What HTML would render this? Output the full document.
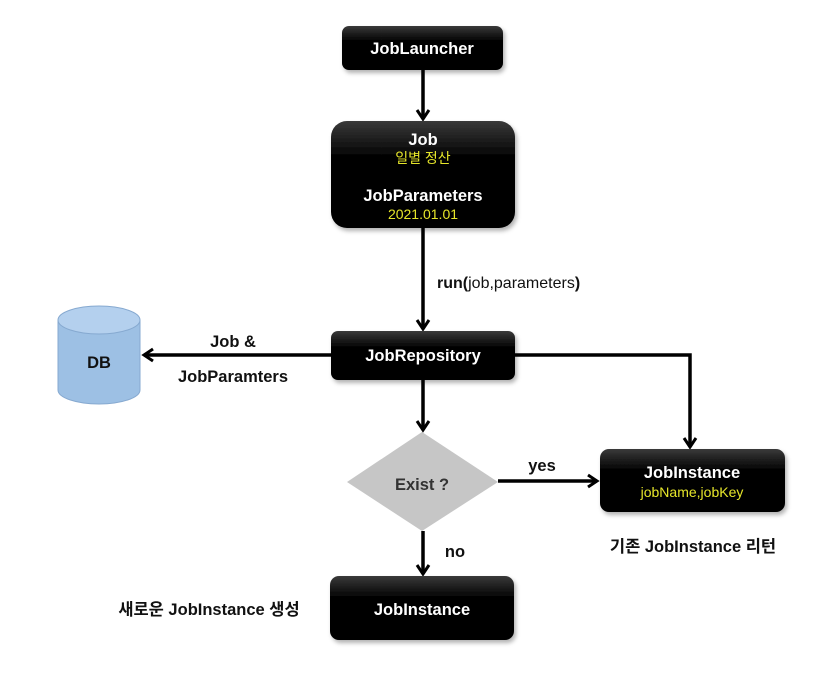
<!DOCTYPE html>
<html><head><meta charset="utf-8"><style>
html,body{margin:0;padding:0;background:#fff;}
svg{display:block;font-family:"Liberation Sans","Noto Sans CJK KR",sans-serif;}
.w{fill:#fff;font-weight:bold;font-size:16.5px;}
.y{fill:#e6e62a;font-size:14px;}
.k{fill:#111;font-weight:bold;font-size:16.5px;}
</style></head><body>
<svg width="820" height="681" viewBox="0 0 820 681">
<defs>
<linearGradient id="bg" x1="0" y1="0" x2="0" y2="1">
<stop offset="0" stop-color="#3a3a3a"/><stop offset="0.35" stop-color="#000"/><stop offset="1" stop-color="#000"/>
</linearGradient>
<marker id="a" markerWidth="16" markerHeight="16" refX="11" refY="8" orient="auto" markerUnits="userSpaceOnUse">
<path d="M2,2 L11,8 L2,14" fill="none" stroke="#000" stroke-width="3"/>
</marker>
<filter id="s" x="-10%" y="-10%" width="130%" height="140%"><feDropShadow dx="2" dy="3" stdDeviation="2" flood-color="#000" flood-opacity="0.3"/></filter>
</defs>
<g stroke="#000" stroke-width="3.5" fill="none">
<line x1="423" y1="70" x2="423" y2="119" marker-end="url(#a)"/>
<line x1="423" y1="228" x2="423" y2="329" marker-end="url(#a)"/>
<line x1="331" y1="355" x2="144" y2="355" marker-end="url(#a)"/>
<polyline points="515,355 690,355 690,447" marker-end="url(#a)"/>
<line x1="423" y1="380" x2="423" y2="430" marker-end="url(#a)"/>
<line x1="498" y1="481" x2="597" y2="481" marker-end="url(#a)"/>
<line x1="423" y1="531" x2="423" y2="574" marker-end="url(#a)"/>
</g>
<g filter="url(#s)">
<rect x="342" y="26" width="161" height="44" rx="7" fill="url(#bg)"/>
<rect x="331" y="121" width="184" height="107" rx="16" fill="url(#bg)"/>
<rect x="331" y="331" width="184" height="49" rx="7" fill="url(#bg)"/>
<rect x="600" y="449" width="185" height="63" rx="9" fill="url(#bg)"/>
<rect x="330" y="576" width="184" height="64" rx="9" fill="url(#bg)"/>
</g>
<text class="w" x="422" y="54" text-anchor="middle">JobLauncher</text>
<text class="w" x="423" y="145" text-anchor="middle">Job</text>
<text class="y" x="423" y="163" text-anchor="middle">일별 정산</text>
<text class="w" x="423" y="201" text-anchor="middle">JobParameters</text>
<text class="y" x="423" y="219" text-anchor="middle">2021.01.01</text>
<text x="437" y="288" font-size="16" fill="#111"><tspan font-weight="bold">run(</tspan>job,parameters<tspan font-weight="bold">)</tspan></text>
<text class="w" x="423" y="361" text-anchor="middle">JobRepository</text>
<path d="M58,320 L58,390 A41,14 0 0 0 140,390 L140,320" fill="#9dc0e4" stroke="#86a9d0"/>
<ellipse cx="99" cy="320" rx="41" ry="14" fill="#b4d0ee" stroke="#86a9d0"/>
<text class="k" x="99" y="368" text-anchor="middle">DB</text>
<text class="k" x="233" y="347" text-anchor="middle">Job &amp;</text>
<text class="k" x="233" y="382" text-anchor="middle">JobParamters</text>
<polygon points="422,432 498,482 422,531 347,482" fill="#c6c6c6"/>
<text x="422" y="490" text-anchor="middle" font-size="16.5" font-weight="bold" fill="#333">Exist ?</text>
<text class="k" x="542" y="471" text-anchor="middle">yes</text>
<text class="w" x="692" y="478" text-anchor="middle">JobInstance</text>
<text class="y" x="692" y="497" text-anchor="middle">jobName,jobKey</text>
<text class="k" x="693" y="552" text-anchor="middle" font-size="17.5">기존 JobInstance 리턴</text>
<text class="k" x="455" y="557" text-anchor="middle">no</text>
<text class="w" x="422" y="615" text-anchor="middle">JobInstance</text>
<text class="k" x="209" y="615" text-anchor="middle" font-size="17.5">새로운 JobInstance 생성</text>
</svg>
</body></html>
